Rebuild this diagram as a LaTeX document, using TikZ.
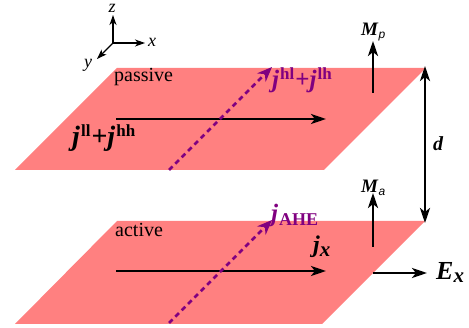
\documentclass[tikz,border=0pt]{standalone}
\usepackage{fontspec}
\setmainfont{Liberation Serif}
\newfontfamily\subsans{Liberation Sans}
\usetikzlibrary{arrows.meta}
\definecolor{planepink}{HTML}{FF8080}
\definecolor{curpurple}{HTML}{800080}
\newcommand{\jbold}{\textbf{\textit{j}}}
\newcommand{\supb}[2]{\raisebox{#1}{\fontsize{17}{17}\selectfont\bfseries #2}}
\begin{document}
\begin{tikzpicture}[x=1pt,y=-1pt,
  plane/.style={fill=planepink,draw=none},
  tipk/.style={},
  blk/.style={line width=2.6pt,-{Stealth[length=15pt,width=10pt,inset=4pt]}},
  blkd/.style={line width=2.6pt,{Stealth[length=15pt,width=10pt,inset=4pt]}-{Stealth[length=15pt,width=10pt,inset=4pt]}},
  axis/.style={line width=1.3pt,-{Stealth[length=10pt,width=7pt,inset=3pt]}},
  pur/.style={curpurple,line width=2.6pt,dash pattern=on 5pt off 4pt,-{Stealth[length=15pt,width=12pt,inset=5pt]}},
  lbl/.style={inner sep=0pt,anchor=base west},
]
\useasboundingbox (0,0) rectangle (469,328);
% planes
\fill[plane] (117,68) -- (426,68) -- (324,170) -- (15,170) -- cycle;
\fill[plane] (117,221) -- (425,221) -- (322,324) -- (15,324) -- cycle;
% axes
\coordinate (o) at (113,43);
\coordinate (ze) at (113,15);
\coordinate (xe) at (145,43);
\coordinate (ye) at (97,59);
\draw[axis] (o) -- (ze);
\draw[axis] (o) -- (xe);
\draw[axis] (o) -- (ye);
\node[lbl,font=\itshape\fontsize{18}{18}\selectfont] (zl) at (108.5,13) {z};
\node[lbl,font=\itshape\fontsize{18}{18}\selectfont] (xl) at (148,47) {x};
\node[lbl,font=\itshape\fontsize{18}{18}\selectfont] (yl) at (84,68) {y};
% labels
\node[lbl,font=\fontsize{20}{20}\selectfont] (pas) at (114,82) {passive};
\node[lbl,font=\fontsize{20}{20}\selectfont] (act) at (115,237) {active};
% top plane currents
\coordinate (t1) at (116,119);
\coordinate (t2) at (326,119);
\draw[blk] (t1) -- (t2);
\coordinate (tp1) at (169,170);
\coordinate (tp2) at (272,67);
\draw[pur] (tp1) -- (tp2);
\node[lbl,font=\fontsize{28}{28}\selectfont] (jllhh) at (72,146) {\jbold\kern1pt\supb{9pt}{ll}\kern1pt\textbf{+}\jbold\kern1pt\supb{9pt}{hh}};
\node[lbl,text=curpurple,font=\fontsize{25}{25}\selectfont] (jhllh) at (272,88) {\jbold\kern1pt\supb{8pt}{hl}\kern1pt\textbf{+}\jbold\kern1pt\supb{8pt}{lh}};
% bottom plane currents
\coordinate (b1) at (116,271);
\coordinate (b2) at (326,271);
\draw[blk] (b1) -- (b2);
\coordinate (bp1) at (169,323);
\coordinate (bp2) at (272,220);
\draw[pur] (bp1) -- (bp2);
\node[lbl,text=curpurple,font=\fontsize{25}{25}\selectfont] (jahe) at (271,222) {\jbold\kern1pt\raisebox{-4pt}{\fontsize{18}{18}\selectfont\bfseries AHE}};
\node[lbl,font=\fontsize{24}{24}\selectfont] (jx) at (313,253) {\jbold\raisebox{-4pt}{\fontsize{21}{21}\selectfont\bfseries\itshape x}};
% magnetisations
\coordinate (mp1) at (373,93);
\coordinate (mp2) at (373,41);
\draw[blk] (mp1) -- (mp2);
\node[lbl,font=\fontsize{19}{19}\selectfont] (mpl) at (361,36) {\textbf{\textit{M}}\raisebox{-3pt}{\subsans\itshape\fontsize{12}{12}\selectfont p}};
\coordinate (ma1) at (373,247);
\coordinate (ma2) at (373,193);
\draw[blk] (ma1) -- (ma2);
\node[lbl,font=\fontsize{19}{19}\selectfont] (mal) at (361,193) {\textbf{\textit{M}}\raisebox{-3pt}{\subsans\itshape\fontsize{12}{12}\selectfont a}};
% d
\coordinate (d1) at (425,66);
\coordinate (d2) at (425,223);
\draw[blkd] (d1) -- (d2);
\node[lbl,font=\fontsize{20}{20}\selectfont] (dl) at (433,151) {\textbf{\textit{d}}};
% E field
\coordinate (e1) at (373,273);
\coordinate (e2) at (427,273);
\draw[blk] (e1) -- (e2);
\node[lbl,font=\fontsize{26}{26}\selectfont] (el) at (436,280) {\textbf{\textit{E}}\raisebox{-3pt}{\fontsize{21}{21}\selectfont\bfseries\itshape x}};
\end{tikzpicture}
\end{document}
